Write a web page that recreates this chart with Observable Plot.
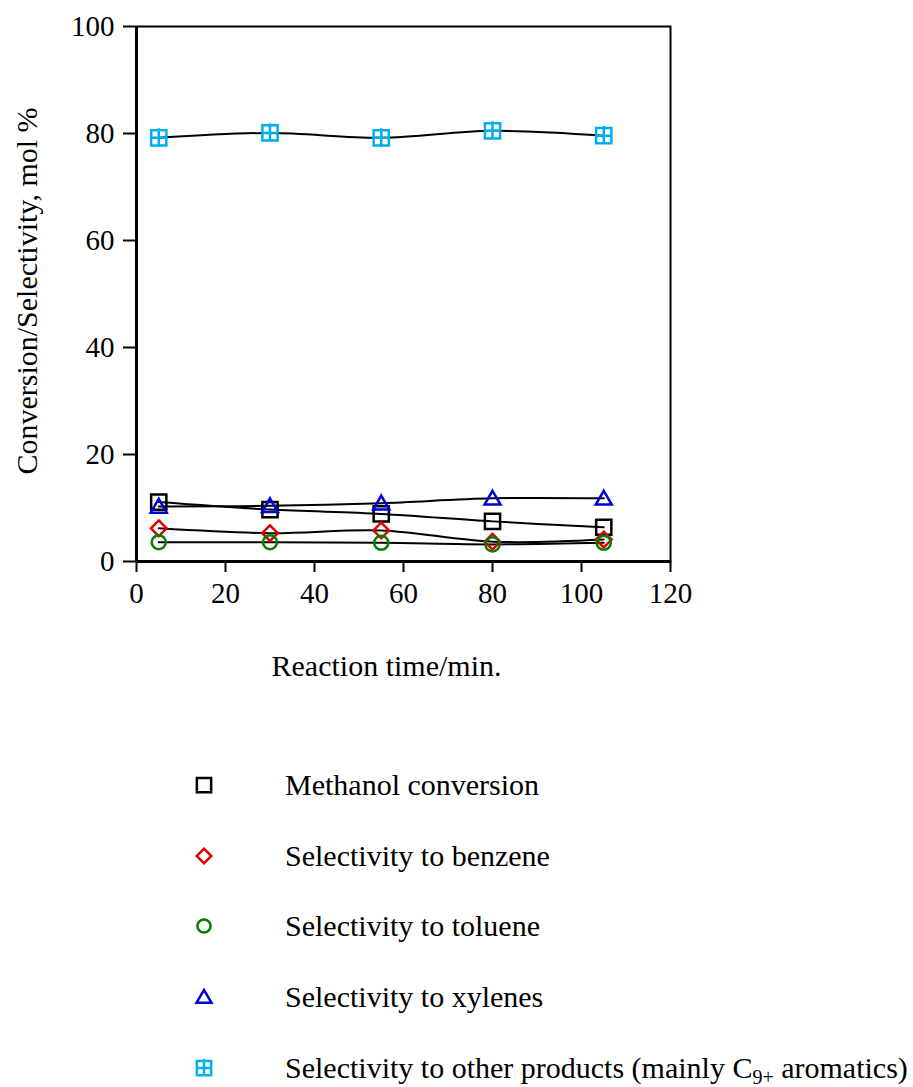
<!DOCTYPE html>
<html>
<head>
<meta charset="utf-8">
<script src="https://cdn.jsdelivr.net/npm/d3@7"></script>
<script src="https://cdn.jsdelivr.net/npm/@observablehq/plot@0.6"></script>
<style>
  html, body { margin: 0; padding: 0; background: #fff; }
  #wrap { position: relative; width: 913px; height: 1087px; font-family: "Liberation Serif", "Times New Roman", serif; }
  #chart { position: absolute; left: 0; top: 0; }
  .leg { position: absolute; left: 0; width: 913px; height: 40px; }
  .leg svg { position: absolute; left: 189px; top: 5px; }
  .leg span { position: absolute; left: 285px; top: 0; font-size: 30px; line-height: 40px; white-space: nowrap; color: #000; display: inline-block; }
  .leg sub { font-size: 20px; vertical-align: -6px; line-height: 0; }
</style>
</head>
<body>
<div id="wrap"><div id="chart"></div></div>
<script>
// ---- data ----
const times = [5, 30, 55, 80, 105];
const methanolConversion = [11.1, 9.7, 8.9, 7.5, 6.4];
const benzeneSelectivity = [6.2, 5.3, 5.8, 3.7, 4.1];
const tolueneSelectivity = [3.6, 3.6, 3.5, 3.2, 3.5];
const xylenesSelectivity = [10.3, 10.4, 10.9, 11.8, 11.8];
const otherSelectivity = [79.2, 80.1, 79.2, 80.5, 79.6];
const seriesNames = ["Methanol conversion", "Selectivity to benzene", "Selectivity to toluene", "Selectivity to xylenes", "Selectivity to other products (mainly C9+ aromatics)"];
const xTicks = [0, 20, 40, 60, 80, 100, 120];
const yTicks = [0, 20, 40, 60, 80, 100];

// ---- symbols ----
const rad = (size) => Math.sqrt(size / Math.PI);
const symSquare = { draw(c, s) { const h = rad(s) * 0.95; c.moveTo(-h, -h); c.lineTo(h, -h); c.lineTo(h, h); c.lineTo(-h, h); c.closePath(); } };
const symDiamond = { draw(c, s) { const h = rad(s) * 0.98; c.moveTo(0, -h); c.lineTo(h, 0); c.lineTo(0, h); c.lineTo(-h, 0); c.closePath(); } };
const symCircle = { draw(c, s) { const h = rad(s) * 0.88; c.moveTo(h, 0); c.arc(0, 0, h, 0, 2 * Math.PI); c.closePath(); } };
const symTriangle = { draw(c, s) { const h = rad(s); c.moveTo(0, -h * 0.95); c.lineTo(h, h * 0.78); c.lineTo(-h, h * 0.78); c.closePath(); } };
const symSquarePlus = { draw(c, s) { const h = rad(s) * 0.95; c.moveTo(-h, -h); c.lineTo(h, -h); c.lineTo(h, h); c.lineTo(-h, h); c.closePath(); c.moveTo(0, -h - 2); c.lineTo(0, h); c.moveTo(-h, 0); c.lineTo(h, 0); } };

const series = [
  { name: seriesNames[0], values: methanolConversion, color: "#000000", symbol: symSquare },
  { name: seriesNames[1], values: benzeneSelectivity, color: "#e00000", symbol: symDiamond },
  { name: seriesNames[2], values: tolueneSelectivity, color: "#008000", symbol: symCircle },
  { name: seriesNames[3], values: xylenesSelectivity, color: "#0000dd", symbol: symTriangle },
  { name: seriesNames[4], values: otherSelectivity, color: "#00aeef", symbol: symSquarePlus }
];
const rows = series.flatMap((s) => times.map((t, i) => ({ series: s.name, time: t, value: s.values[i] })));

const marks = [
  Plot.frame({ stroke: "#000", strokeWidth: 2 }),
  Plot.ruleX([0], { stroke: "#000", strokeWidth: 3 }),
  Plot.ruleY([0], { stroke: "#000", strokeWidth: 3 }),
  Plot.axisX({ ticks: xTicks, tickSize: 11, tickPadding: 10, strokeWidth: 2, label: null, fontSize: 29 }),
  Plot.axisY({ ticks: yTicks, tickSize: 13, tickPadding: 9, strokeWidth: 2, label: null, fontSize: 29 }),
  Plot.lineY(rows, { x: "time", y: "value", z: "series", stroke: "#000", strokeWidth: 2, curve: "catmull-rom" })
];
for (const s of series) {
  marks.push(Plot.dot(rows.filter((d) => d.series === s.name), { x: "time", y: "value", r: 8, symbol: s.symbol, stroke: s.color, strokeWidth: 2.5, fill: "none" }));
}
marks.push(Plot.text(["Reaction time/min."], { frameAnchor: "bottom", textAnchor: "middle", dy: 114, dx: -17, fontSize: 30, fill: "#000" }));
marks.push(Plot.text(["Conversion/Selectivity, mol %"], { frameAnchor: "left", textAnchor: "middle", rotate: -90, dx: -109, dy: -3, fontSize: 30, fill: "#000" }));

const chart = Plot.plot({
  width: 913,
  height: 720,
  marginLeft: 136,
  marginRight: 243,
  marginTop: 26,
  marginBottom: 159,
  style: { fontFamily: "'Liberation Serif', 'Times New Roman', serif", fontSize: "30px", color: "#000", background: "#fff" },
  x: { domain: [0, 120] },
  y: { domain: [0, 100] },
  marks
});
document.getElementById("chart").appendChild(chart);

// ---- legend (below the chart) ----
const wrap = document.getElementById("wrap");
const legendY = [785, 856, 926, 997, 1068];
series.forEach((s, i) => {
  const row = document.createElement("div");
  row.className = "leg";
  row.style.top = (legendY[i] - 20) + "px";
  const p = d3.path();
  s.symbol.draw(p, 7.5 * 7.5 * Math.PI);
  const svg = d3.create("svg").attr("width", 30).attr("height", 30);
  svg.append("path").attr("transform", "translate(15,15)").attr("d", p.toString()).attr("fill", "none").attr("stroke", s.color).attr("stroke-width", 2.5);
  row.appendChild(svg.node());
  const span = document.createElement("span");
  if (i === 4) {
    span.innerHTML = "Selectivity to other products (mainly C<sub>9+</sub> aromatics)";
  } else {
    span.textContent = s.name;
  }
  row.appendChild(span);
  wrap.appendChild(row);
});
</script>
</body>
</html>
